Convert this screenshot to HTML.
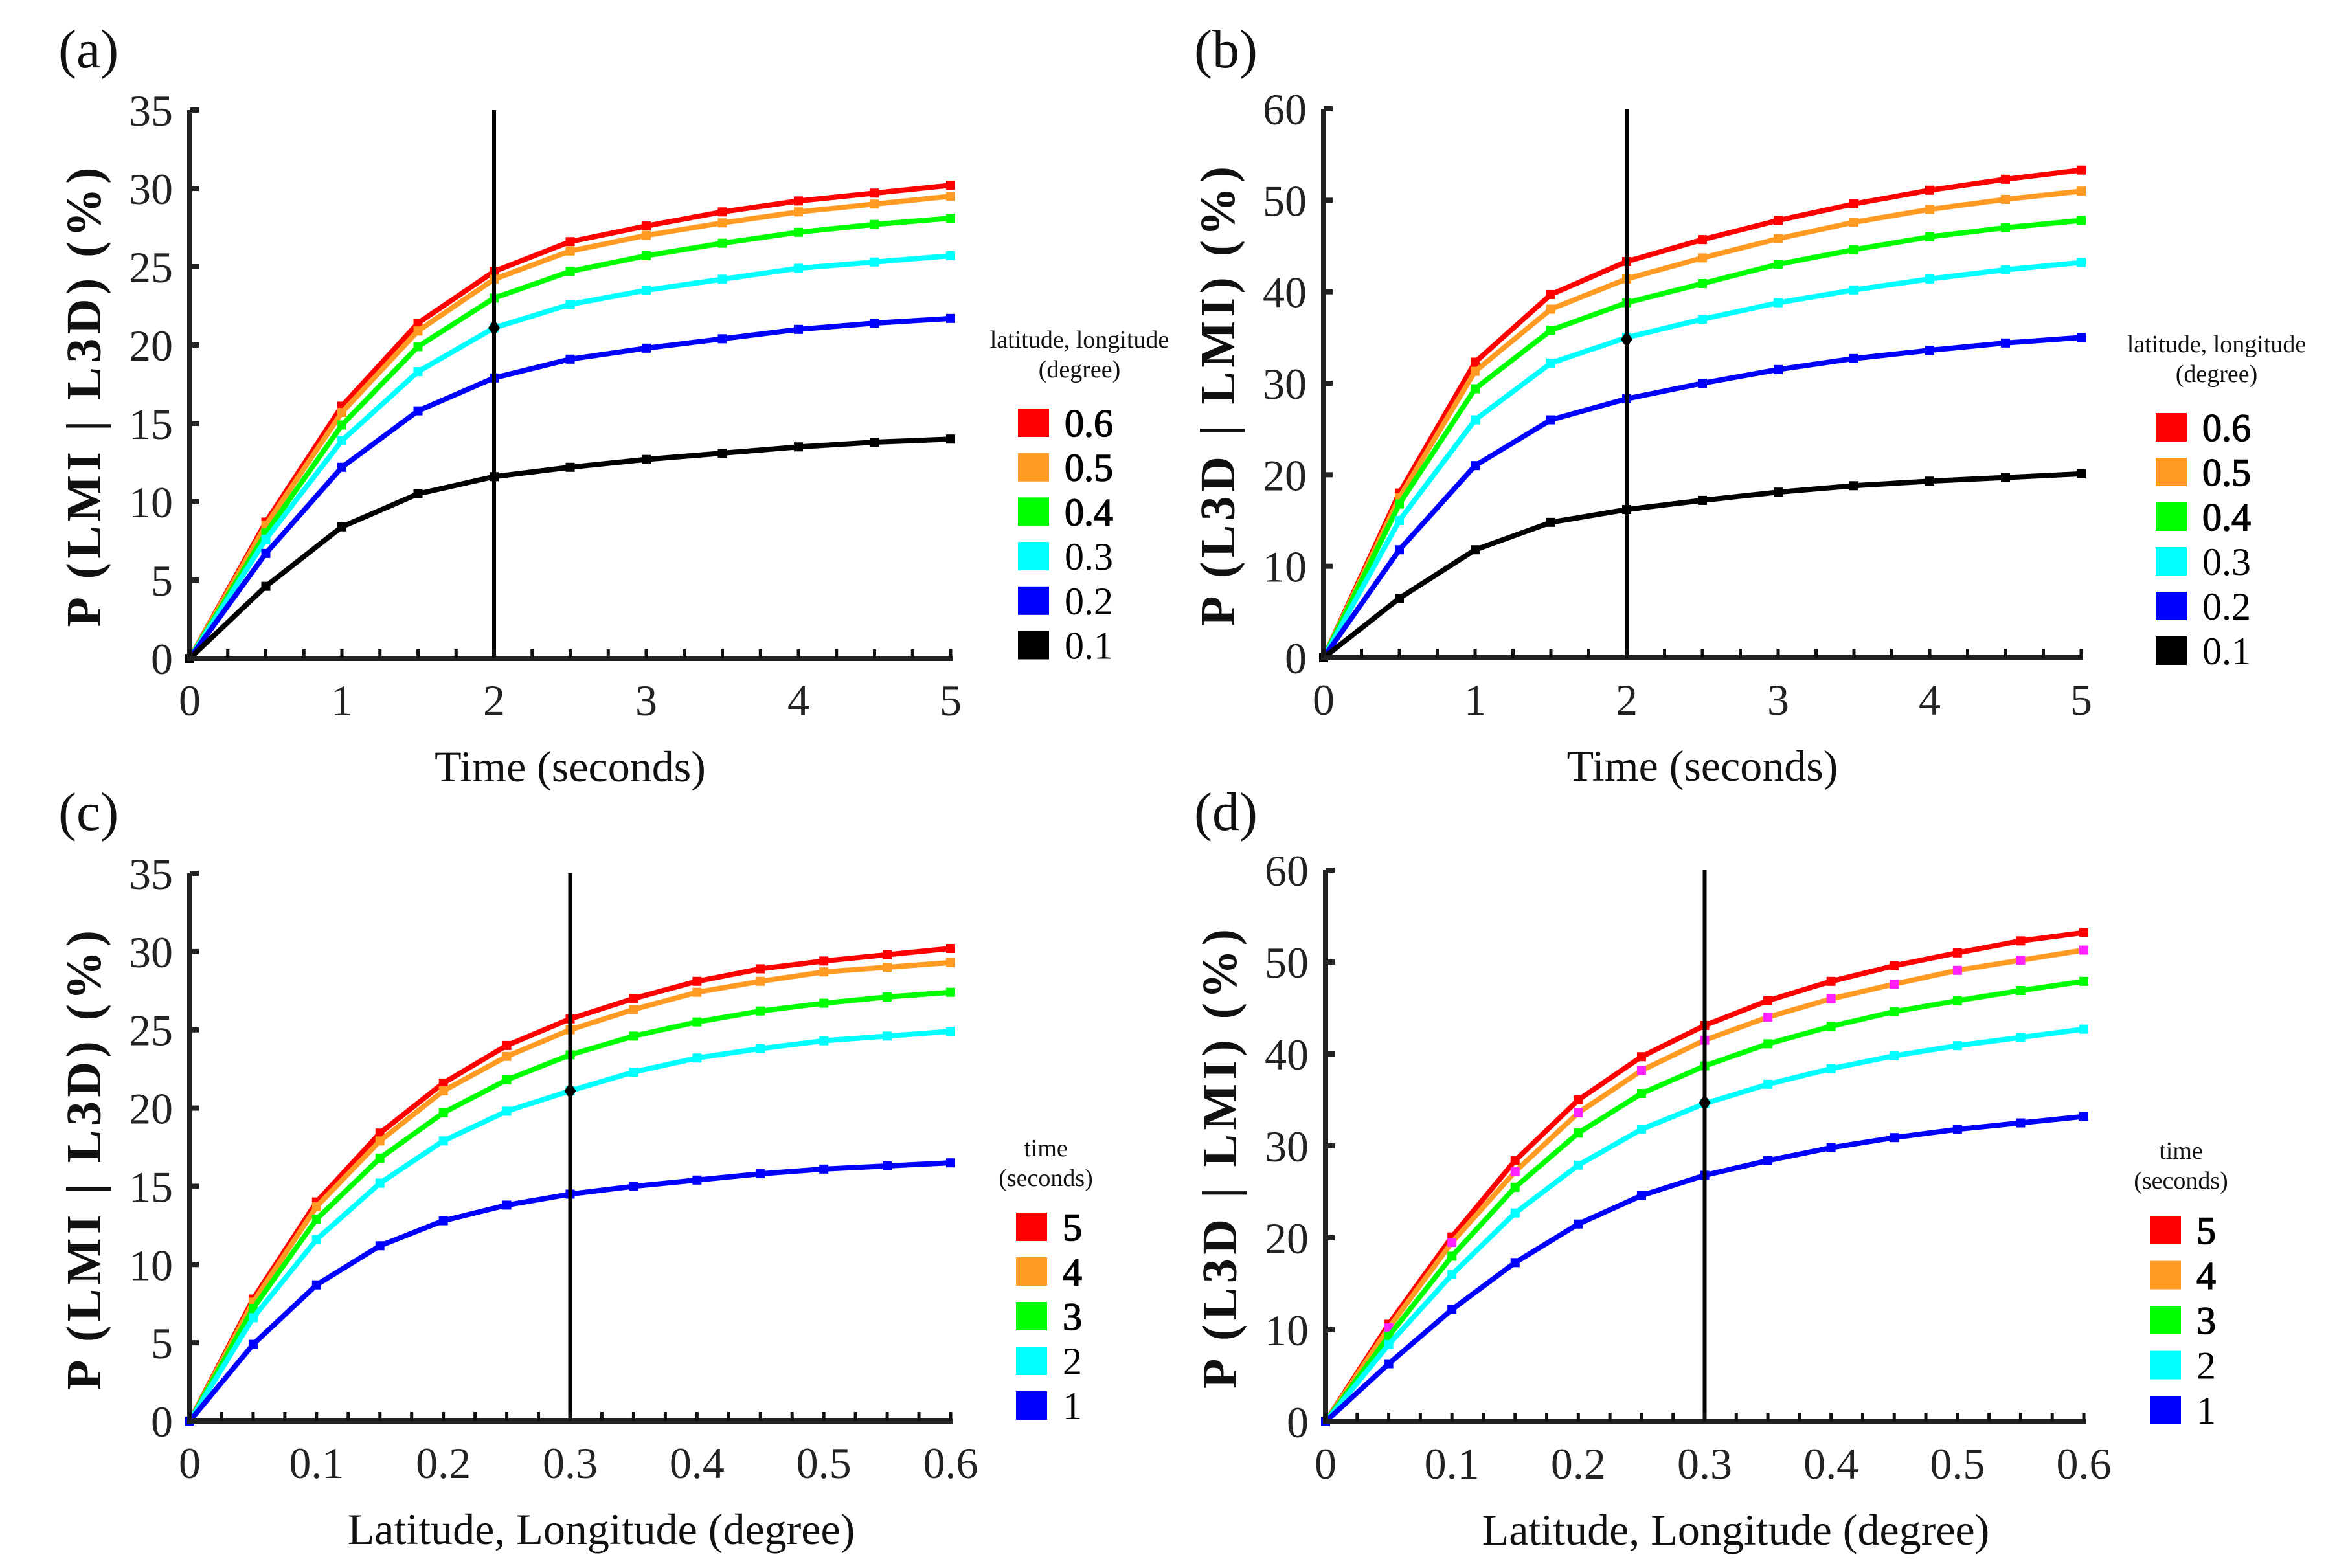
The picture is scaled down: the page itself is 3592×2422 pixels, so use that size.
<!DOCTYPE html>
<html><head><meta charset="utf-8"><style>
html,body{margin:0;padding:0;background:#fff;}
svg{display:block;font-family:"Liberation Serif",serif;}
</style></head><body>
<svg id="fig" xmlns="http://www.w3.org/2000/svg" width="3592" height="2422" viewBox="0 0 3592 2422"></svg>
<script>
const colors6 = ["#ff0000","#ff9a22","#00ff00","#00ffff","#0000ff","#000000"];
// Panel a
const aX = [0,0.5,1,1.5,2,2.5,3,3.5,4,4.5,5];
const aRed = [0,8.7,16.1,21.4,24.7,26.6,27.6,28.5,29.2,29.7,30.2];
const aOrange = [0,8.5,15.7,20.9,24.2,26.0,27.0,27.8,28.5,29.0,29.5];
const aGreen = [0,8.0,14.9,19.9,23.0,24.7,25.7,26.5,27.2,27.7,28.1];
const aCyan = [0,7.6,13.9,18.3,21.1,22.6,23.5,24.2,24.9,25.3,25.7];
const aBlue = [0,6.7,12.2,15.8,17.9,19.1,19.8,20.4,21.0,21.4,21.7];
const aBlack = [0,4.6,8.4,10.5,11.6,12.2,12.7,13.1,13.5,13.8,14.0];
const aLegend = ["0.6","0.5","0.4","0.3","0.2","0.1"];
const aMark = [2,21.1];
// Panel b
const bRed = [0,18,32.3,39.7,43.3,45.7,47.8,49.6,51.1,52.3,53.3];
const bOrange = [0,17.5,31.3,38.1,41.4,43.7,45.8,47.6,49.0,50.1,51.0];
const bGreen = [0,16.8,29.4,35.8,38.8,40.9,43.0,44.6,46.0,47.0,47.8];
const bCyan = [0,15,26,32.2,35,37,38.8,40.2,41.4,42.4,43.2];
const bBlue = [0,11.8,21,26,28.3,30,31.5,32.7,33.6,34.4,35.0];
const bBlack = [0,6.5,11.8,14.8,16.2,17.2,18.1,18.8,19.3,19.7,20.1];
const bMark = [2,34.8];
// Panel c
const cX = [0,0.05,0.1,0.15,0.2,0.25,0.3,0.35,0.4,0.45,0.5,0.55,0.6];
const cRed = [0,7.8,14,18.4,21.6,24,25.7,27.0,28.1,28.9,29.4,29.8,30.2];
const cOrange = [0,7.6,13.7,17.9,21.1,23.3,25.0,26.3,27.4,28.1,28.7,29.0,29.3];
const cGreen = [0,7.2,12.9,16.8,19.7,21.8,23.4,24.6,25.5,26.2,26.7,27.1,27.4];
const cCyan = [0,6.6,11.6,15.2,17.9,19.8,21.1,22.3,23.2,23.8,24.3,24.6,24.9];
const cBlue = [0,4.9,8.7,11.2,12.8,13.8,14.5,15.0,15.4,15.8,16.1,16.3,16.5];
const cLegend = ["5","4","3","2","1"];
const cMark = [0.3,21.1];
// Panel d
const dRed = [0,10.6,20.1,28.4,35.0,39.7,43.1,45.8,47.9,49.6,51.0,52.3,53.2];
const dOrange = [0,10.2,19.5,27.2,33.6,38.2,41.5,44.0,46.0,47.6,49.1,50.2,51.3];
const dGreen = [0,9.3,18.0,25.5,31.4,35.7,38.7,41.1,43.0,44.6,45.8,46.9,47.9];
const dCyan = [0,8.4,16.0,22.7,27.9,31.8,34.6,36.7,38.4,39.8,40.9,41.8,42.7];
const dBlue = [0,6.3,12.2,17.3,21.5,24.6,26.8,28.4,29.8,30.9,31.8,32.5,33.2];
const dMark = [0.3,34.7];

const NS="http://www.w3.org/2000/svg";
const svg=document.getElementById('fig');
function mk(tag,attrs,parent){const e=document.createElementNS(NS,tag);for(const k in attrs)e.setAttribute(k,attrs[k]);(parent||svg).appendChild(e);return e;}
function txt(s,attrs,parent){const e=mk('text',attrs,parent);e.textContent=s;return e;}

function panel(p){
  const g=mk('g',{});
  
  
  const sx=v=>p.x0+(v-p.xmin)/(p.xmax-p.xmin)*(p.x1-p.x0);
  const sy=v=>p.y0-(v/p.ymax)*(p.y0-p.y1);
  const pl=txt('('+p.id+')',{x:p.lx,y:p.ly,'font-size':84,fill:'#111'},g);
  
  
  p.series.forEach((ys,i)=>{
    const sg=mk('g',{},g);
    
    
    const pts=p.xs.map((x,j)=>sx(x)+','+sy(ys[j])).join(' ');
    const line=mk('polyline',{points:pts,fill:'none',stroke:p.colors[i],'stroke-width':8,'stroke-linejoin':'round'},sg);
    
    
    p.xs.forEach((x,j)=>{
      const mc=(p.markerColors&&p.markerColors[i])||p.colors[i];
      const r=mk('rect',{x:sx(x)-7,y:sy(ys[j])-7,width:14,height:14,fill:mc},sg);
      
      
    });
  });
  const vl=mk('line',{x1:sx(p.mark[0]),x2:sx(p.mark[0]),y1:p.y0,y2:p.y1,stroke:'#000','stroke-width':6},g);
  
  
  const dx=sx(p.mark[0]),dy=sy(p.mark[1]);
  const dm=mk('polygon',{points:`${dx},${dy-13} ${dx+9},${dy} ${dx},${dy+13} ${dx-9},${dy}`,fill:'#000'},g);
  
  
  const ax=mk('g',{},g);
  
  
  mk('line',{x1:p.x0,x2:p.x1+3,y1:p.y0,y2:p.y0,stroke:'#222','stroke-width':8},ax);
  mk('line',{x1:p.x0,x2:p.x0,y1:p.y0+4,y2:p.y1,stroke:'#222','stroke-width':8},ax);
  for(let k=0;k<=p.nMinor;k++){
    const v=p.xmin+k*(p.xmax-p.xmin)/p.nMinor;
    mk('line',{x1:sx(v),x2:sx(v),y1:p.y0,y2:p.y0-14,stroke:'#111','stroke-width':5},ax);
  }
  p.xticks.forEach((t,k)=>{
    const v=p.xtickVals[k];
    const tl=txt(t,{x:sx(v),y:p.y0+88,'font-size':68,'text-anchor':'middle',fill:'#222'},ax);
    
    
  });
  p.yticks.forEach(v=>{
    mk('line',{x1:p.x0,x2:p.x0+14,y1:sy(v),y2:sy(v),stroke:'#222','stroke-width':8},ax);
    const tl=txt(String(v),{x:p.x0-26,y:sy(v)+24,'font-size':68,'text-anchor':'end',fill:'#222'},ax);
    
    
  });
  const xt=txt(p.xtitle,{x:(p.x0+p.x1)/2+p.xtOff,y:p.y0+190,'font-size':68,'text-anchor':'middle',fill:'#111'},g);
  
  
  const yc=(p.y0+p.y1)/2+20, yx=p.x0-138;
  const yt=txt(p.ytitle,{x:yx,y:yc,'font-size':76,'font-weight':'bold','text-anchor':'middle',fill:'#111',textLength:710,lengthAdjust:'spacing',transform:`rotate(-90 ${yx} ${yc})`,'xml:space':'preserve'},g);
  
  
  const lg=mk('g',{},g);
  
  
  txt(p.legTitle[0],{x:p.legCx,y:p.legTy,'font-size':38,'text-anchor':'middle',fill:'#111'},lg);
  txt(p.legTitle[1],{x:p.legCx,y:p.legTy+46,'font-size':38,'text-anchor':'middle',fill:'#111'},lg);
  p.legend.forEach((l,i)=>{
    const cy=p.legY+i*p.legStep;
    const e=mk('g',{},lg);
    
    
    mk('rect',{x:p.legX,y:cy-22,width:48,height:44,fill:p.colors[i]},e);
    const t=txt(l,{x:p.legX+72,y:cy+21,'font-size':60,fill:'#000'},e);
    if(i<3){t.setAttribute('stroke','#000');t.setAttribute('stroke-width','1.5');}
  });
}

panel({id:'a',x0:293,x1:1468,y0:1017,y1:170,xmin:0,xmax:5,ymax:35,nMinor:20,xtOff:0,
  xs:aX,series:[aRed,aOrange,aGreen,aCyan,aBlue,aBlack],colors:colors6,legend:aLegend,mark:aMark,
  xticks:["0","1","2","3","4","5"],xtickVals:[0,1,2,3,4,5],yticks:[0,5,10,15,20,25,30,35],
  xtitle:'Time (seconds)',ytitle:'P (LMI | L3D)  (%)',lx:90,ly:104,
  legTitle:['latitude, longitude','(degree)'],legCx:1667,legTy:537,legX:1572,legY:653,legStep:68.7});
panel({id:'b',x0:2044,x1:3214,y0:1016,y1:168,xmin:0,xmax:5,ymax:60,nMinor:20,xtOff:0,
  xs:aX,series:[bRed,bOrange,bGreen,bCyan,bBlue,bBlack],colors:colors6,legend:aLegend,mark:bMark,
  xticks:["0","1","2","3","4","5"],xtickVals:[0,1,2,3,4,5],yticks:[0,10,20,30,40,50,60],
  xtitle:'Time (seconds)',ytitle:'P (L3D | LMI)  (%)',lx:1844,ly:104,
  legTitle:['latitude, longitude','(degree)'],legCx:3423,legTy:544,legX:3329,legY:660,legStep:69});
panel({id:'c',x0:293,x1:1468,y0:2195,y1:1349,xmin:0,xmax:0.6,ymax:35,nMinor:24,xtOff:48,
  xs:cX,series:[cRed,cOrange,cGreen,cCyan,cBlue],colors:colors6.slice(0,5),legend:cLegend,mark:cMark,
  xticks:["0","0.1","0.2","0.3","0.4","0.5","0.6"],xtickVals:[0,0.1,0.2,0.3,0.4,0.5,0.6],yticks:[0,5,10,15,20,25,30,35],
  xtitle:'Latitude, Longitude (degree)',ytitle:'P (LMI | L3D)  (%)',lx:90,ly:1282,
  legTitle:['time','(seconds)'],legCx:1615,legTy:1786,legX:1569,legY:1895,legStep:69});
panel({id:'d',x0:2047,x1:3218,y0:2196,y1:1344,xmin:0,xmax:0.6,ymax:60,nMinor:24,xtOff:48,
  xs:cX,series:[dRed,dOrange,dGreen,dCyan,dBlue],colors:colors6.slice(0,5),markerColors:[null,'#ff22ff'],legend:cLegend,mark:dMark,
  xticks:["0","0.1","0.2","0.3","0.4","0.5","0.6"],xtickVals:[0,0.1,0.2,0.3,0.4,0.5,0.6],yticks:[0,10,20,30,40,50,60],
  xtitle:'Latitude, Longitude (degree)',ytitle:'P (L3D | LMI)  (%)',lx:1844,ly:1282,
  legTitle:['time','(seconds)'],legCx:3368,legTy:1790,legX:3320,legY:1900,legStep:69.5});
</script>
</body></html>
